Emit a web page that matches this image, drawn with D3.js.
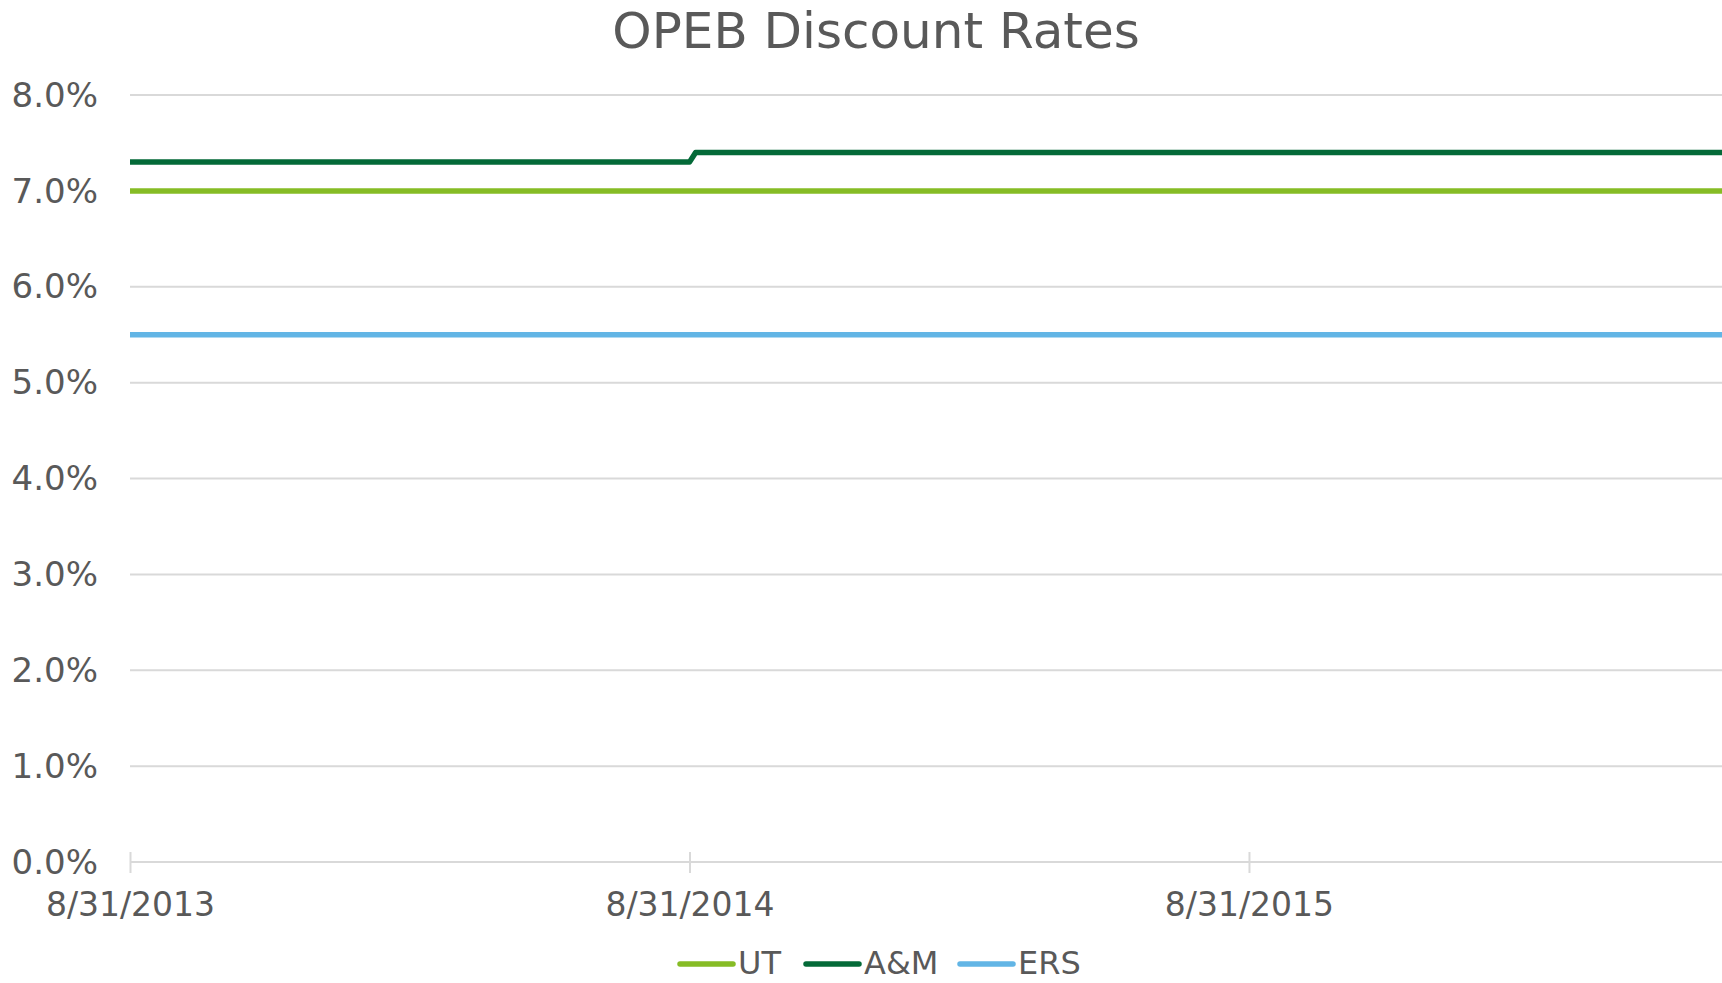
<!DOCTYPE html>
<html>
<head>
<meta charset="utf-8">
<script src="https://cdn.jsdelivr.net/npm/d3@7/dist/d3.min.js"></script>
<style>
  html, body { margin: 0; padding: 0; background: #fff; overflow: hidden; }
  text { font-family: "DejaVu Sans", Verdana, sans-serif; fill: #595959; }
</style>
</head>
<body>
<svg id="chart" width="1722" height="983"></svg>
<script>
// ---- data ----
const title = "OPEB Discount Rates";
const seriesNames = ["UT", "A&M", "ERS"];
const seriesColors = ["#86bc25", "#046a38", "#62b5e5"];
const utDates = ["2013-08-31", "2016-08-31"];
const utValues = [7.0, 7.0];
const amDates = ["2013-08-31", "2014-08-31", "2014-09-04", "2016-08-31"];
const amValues = [7.3, 7.3, 7.4, 7.4];
const ersDates = ["2013-08-31", "2016-08-31"];
const ersValues = [5.5, 5.5];
const xTickLabels = ["8/31/2013", "8/31/2014", "8/31/2015"];
const yTicks = [0, 1, 2, 3, 4, 5, 6, 7, 8];

(function () {
const parse = d3.timeParse("%Y-%m-%d");
const parseLabel = d3.timeParse("%m/%d/%Y");
const fmtLabel = d => (d.getMonth() + 1) + "/" + d.getDate() + "/" + d.getFullYear();

const series = [
  { name: seriesNames[0], color: seriesColors[0], pts: utDates.map((d, i) => ({ x: parse(d), y: utValues[i] })) },
  { name: seriesNames[1], color: seriesColors[1], pts: amDates.map((d, i) => ({ x: parse(d), y: amValues[i] })) },
  { name: seriesNames[2], color: seriesColors[2], pts: ersDates.map((d, i) => ({ x: parse(d), y: ersValues[i] })) }
];

const svg = d3.select("#chart");
const W = 1722, H = 983;
const mLeft = 130, mTop = 95, mBottom = 862;
const yearPx = 560;

const x = d3.scaleTime()
  .domain([parse("2013-08-31"), parse("2016-08-31")])
  .range([mLeft, mLeft + 3 * yearPx]);
const y = d3.scaleLinear().domain([0, 8]).range([mBottom, mTop]);

svg.append("defs").append("clipPath").attr("id", "clip")
  .append("rect").attr("x", mLeft - 5).attr("y", 0).attr("width", W - mLeft + 5).attr("height", H);

// title
svg.append("text")
  .attr("x", 876).attr("y", 48)
  .attr("text-anchor", "middle")
  .style("font-size", "50px")
  .text(title);

// gridlines
const grid = svg.append("g").attr("clip-path", "url(#clip)");
grid.selectAll("line.grid").data(yTicks.filter(d => d !== 0)).enter().append("line")
  .attr("x1", mLeft).attr("x2", W + 10)
  .attr("y1", d => y(d)).attr("y2", d => y(d))
  .attr("stroke", "#d9d9d9").attr("stroke-width", 2);

// y axis labels
const yAxis = d3.axisLeft(y).tickValues(yTicks).tickFormat(d => d.toFixed(1) + "%").tickSize(0).tickPadding(0);
const gy = svg.append("g").attr("transform", "translate(98,0)").call(yAxis);
gy.select(".domain").remove();
gy.selectAll("text").style("font-size", "34px").attr("fill", "#595959").attr("dy", "0.33em")
  .style("font-family", "'DejaVu Sans', Verdana, sans-serif");

// x axis
const xTicks = xTickLabels.map(parseLabel);
const xAxis = d3.axisBottom(x).tickValues(xTicks).tickFormat(fmtLabel).tickSize(10).tickPadding(21);
const gx = svg.append("g").attr("transform", `translate(0,${mBottom})`).call(xAxis);
gx.select(".domain").attr("d", `M${mLeft},0H${W + 10}`).attr("stroke", "#d9d9d9").attr("stroke-width", 2);
gx.selectAll(".tick line").attr("y1", -10).attr("y2", 11).attr("stroke", "#d9d9d9").attr("stroke-width", 2);
gx.selectAll(".tick text").style("font-size", "33px").attr("fill", "#595959")
  .style("font-family", "'DejaVu Sans', Verdana, sans-serif");

// lines
const line = d3.line().x(d => x(d.x)).y(d => y(d.y));
svg.append("g").attr("clip-path", "url(#clip)")
  .selectAll("path.series").data(series).enter().append("path")
  .attr("d", d => line(d.pts))
  .attr("fill", "none")
  .attr("stroke", d => d.color)
  .attr("stroke-width", 5.5)
  .attr("stroke-linejoin", "round");

// legend
const legendX = [680, 806, 960];
const lg = svg.append("g");
series.forEach((s, i) => {
  const g = lg.append("g").attr("transform", `translate(${legendX[i]},964)`);
  g.append("line").attr("x1", 0).attr("x2", 53).attr("y1", 0).attr("y2", 0)
    .attr("stroke", s.color).attr("stroke-width", 5.5).attr("stroke-linecap", "round");
  g.append("text").attr("x", 58).attr("y", 0).attr("dy", "0.3em")
    .style("font-size", "32px").text(s.name);
});
})();
</script>
</body>
</html>
